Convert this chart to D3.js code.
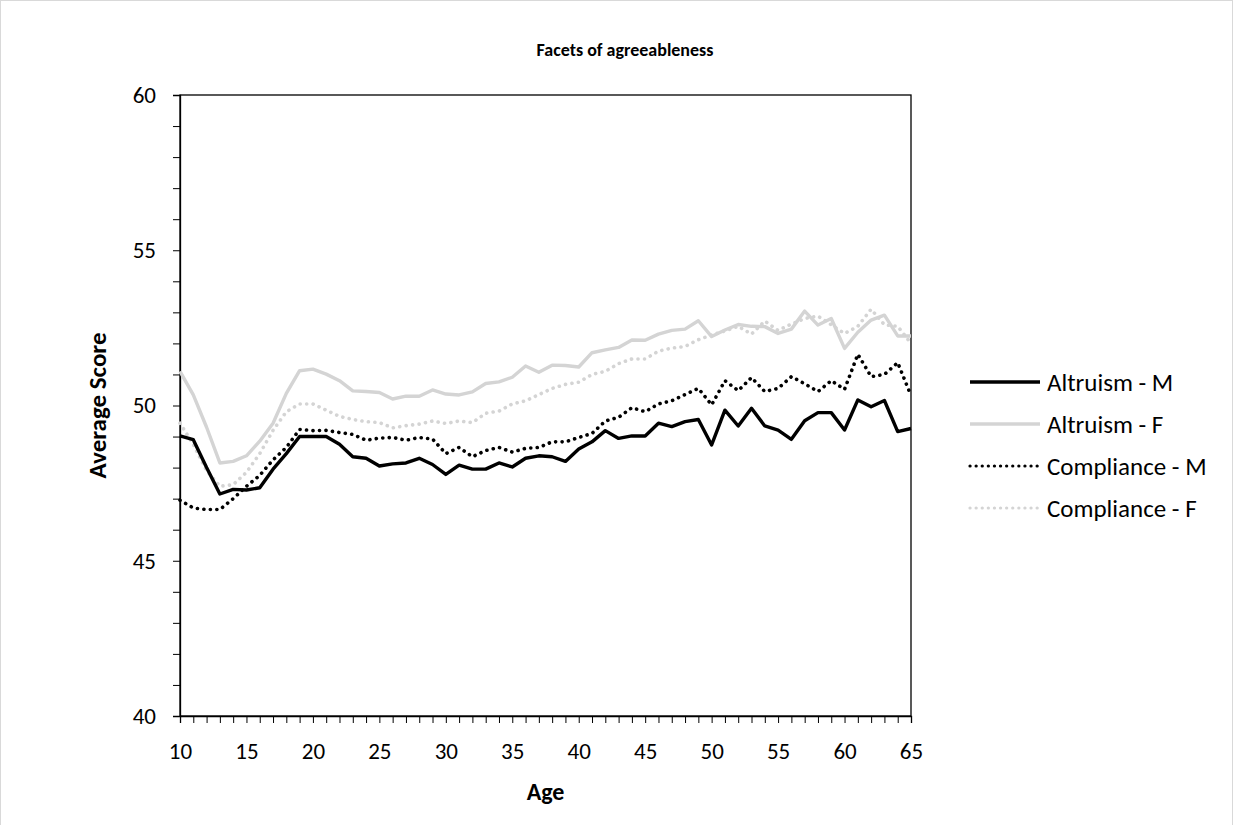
<!DOCTYPE html>
<html>
<head>
<meta charset="utf-8">
<script src="https://cdn.jsdelivr.net/npm/d3@7"></script>
<style>
  html, body { margin: 0; padding: 0; background: #fff; }
  svg { display: block; font-family: Carlito, Calibri, Lato, "Open Sans", sans-serif; }
</style>
</head>
<body>
<svg id="chart" width="1246" height="825"></svg>
<script>
const ages = d3.range(10, 66);
const altruismM = [49.02,48.9,48.0,47.15,47.3,47.28,47.35,47.95,48.45,49.0,49.0,49.0,48.75,48.35,48.3,48.05,48.12,48.15,48.3,48.1,47.78,48.08,47.95,47.95,48.15,48.02,48.3,48.38,48.35,48.2,48.6,48.83,49.19,48.94,49.02,49.02,49.43,49.32,49.48,49.55,48.73,49.85,49.34,49.91,49.34,49.21,48.91,49.51,49.77,49.77,49.21,50.18,49.96,50.16,49.16,49.26];
const altruismF = [51.1,50.34,49.3,48.15,48.2,48.38,48.85,49.43,50.39,51.12,51.17,51.01,50.8,50.47,50.45,50.42,50.21,50.3,50.3,50.5,50.37,50.34,50.44,50.71,50.76,50.91,51.27,51.07,51.3,51.29,51.24,51.7,51.79,51.87,52.11,52.1,52.3,52.42,52.46,52.73,52.22,52.43,52.61,52.55,52.54,52.32,52.46,53.04,52.59,52.8,51.84,52.36,52.75,52.91,52.24,52.24];
const complianceM = [46.95,46.7,46.65,46.65,47.0,47.4,47.75,48.25,48.65,49.23,49.19,49.2,49.13,49.07,48.88,48.95,48.97,48.88,48.97,48.92,48.45,48.65,48.35,48.55,48.65,48.5,48.62,48.65,48.83,48.83,48.97,49.1,49.5,49.62,49.93,49.8,50.05,50.15,50.35,50.55,50.02,50.8,50.48,50.9,50.45,50.55,50.93,50.7,50.45,50.8,50.52,51.65,50.93,51.0,51.38,50.32];
const complianceF = [49.43,48.75,47.9,47.4,47.45,47.85,48.45,49.2,49.8,50.05,50.05,49.85,49.65,49.55,49.48,49.45,49.28,49.35,49.4,49.5,49.42,49.5,49.45,49.75,49.82,50.05,50.15,50.35,50.55,50.68,50.75,51.0,51.1,51.35,51.5,51.5,51.75,51.85,51.9,52.12,52.27,52.4,52.55,52.3,52.72,52.42,52.62,52.8,52.88,52.6,52.32,52.55,53.1,52.6,52.55,52.0];
const seriesNames = ["Altruism - M", "Altruism - F", "Compliance - M", "Compliance - F"];
const xTickValues = [10,15,20,25,30,35,40,45,50,55,60,65];
const yTickValues = [40,45,50,55,60];
const titleText = "Facets of agreeableness";
const xTitle = "Age";
const yTitle = "Average Score";

const series = [
  {name: seriesNames[0], values: altruismM, color: "#000000", dash: null},
  {name: seriesNames[1], values: altruismF, color: "#d4d4d4", dash: null},
  {name: seriesNames[2], values: complianceM, color: "#000000", dash: "0.1,6.4"},
  {name: seriesNames[3], values: complianceF, color: "#d4d4d4", dash: "0.1,6.4"}
];

const svg = d3.select("#chart");
const L = 180, R = 911, T = 95, B = 716;
const FONT = "Carlito, Calibri, Lato, sans-serif";

svg.append("rect").attr("x", 0.5).attr("y", 0.5).attr("width", 1232).attr("height", 840)
  .attr("fill", "none").attr("stroke", "#d9d9d9").attr("stroke-width", 1);

const x = d3.scaleLinear().domain([10, 65]).range([L, R]);
const y = d3.scaleLinear().domain([40, 60]).range([B, T]);

svg.append("rect").attr("x", L).attr("y", T).attr("width", R - L).attr("height", B - T)
  .attr("fill", "none").attr("stroke", "#000").attr("stroke-width", 1.3);

const gx = svg.append("g").attr("transform", `translate(0,${B})`)
  .call(d3.axisBottom(x).tickValues(d3.range(10, 66, 1)).tickSize(7).tickFormat(""));
gx.select(".domain").attr("stroke", "#000").attr("stroke-width", 1.3);
gx.selectAll(".tick line").attr("stroke", "#000").attr("stroke-width", 1);

const gxl = svg.append("g").attr("transform", `translate(0,${B})`)
  .call(d3.axisBottom(x).tickValues(xTickValues).tickSize(0).tickPadding(27));
gxl.select(".domain").remove();
gxl.selectAll("text").attr("font-size", 23).attr("fill", "#000").attr("font-family", FONT);

const gy = svg.append("g").attr("transform", `translate(${L},0)`)
  .call(d3.axisLeft(y).tickValues(d3.range(40, 61, 1)).tickSize(7).tickFormat(""));
gy.select(".domain").attr("stroke", "#000").attr("stroke-width", 1.3);
gy.selectAll(".tick line").attr("stroke", "#000").attr("stroke-width", 1);

const gyl = svg.append("g").attr("transform", `translate(${L},0)`)
  .call(d3.axisLeft(y).tickValues(yTickValues).tickSize(0).tickPadding(24));
gyl.select(".domain").remove();
gyl.selectAll("text").attr("font-size", 23).attr("fill", "#000").attr("font-family", FONT);

const line = d3.line().x((d, i) => x(ages[i])).y(d => y(d));
[1, 3, 2, 0].forEach(k => {
  const s = series[k];
  const p = svg.append("path").datum(s.values).attr("d", line)
    .attr("fill", "none").attr("stroke", s.color)
    .attr("stroke-width", s.dash ? 3.6 : 3.4)
    .attr("stroke-linejoin", "round");
  if (s.dash) p.attr("stroke-dasharray", s.dash).attr("stroke-linecap", "round");
});

svg.append("text").attr("x", 625).attr("y", 56).attr("text-anchor", "middle")
  .attr("font-size", 18).attr("font-weight", "bold").text(titleText);
svg.append("text").attr("x", (L + R) / 2).attr("y", 800).attr("text-anchor", "middle")
  .attr("font-size", 24).attr("font-weight", "bold").text(xTitle);
svg.append("text").attr("transform", `translate(106,${(T + B) / 2}) rotate(-90)`)
  .attr("text-anchor", "middle").attr("font-size", 25).attr("font-weight", "bold").text(yTitle);

const lg = svg.append("g");
series.forEach((s, i) => {
  const yy = 382 + i * 42;
  const ln = lg.append("line").attr("x1", 970).attr("x2", 1040).attr("y1", yy).attr("y2", yy)
    .attr("stroke", s.color).attr("stroke-width", 3.4);
  if (s.dash) ln.attr("stroke-dasharray", "0.1,6").attr("stroke-linecap", "round").attr("stroke-width", 3.2);
  lg.append("text").attr("x", 1047).attr("y", yy).attr("dy", "0.35em")
    .attr("font-size", 25).text(s.name);
});
</script>
</body>
</html>
